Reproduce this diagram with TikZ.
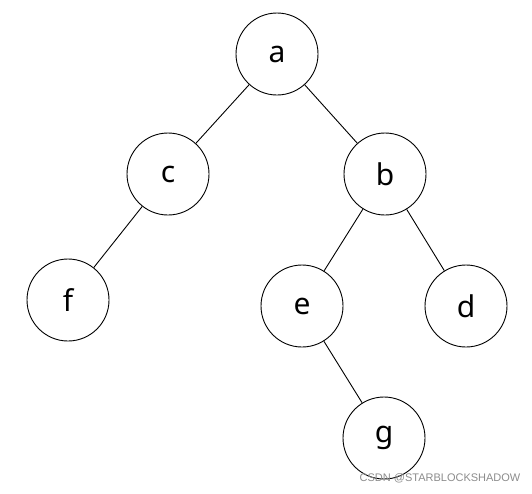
\documentclass[tikz,border=0pt]{standalone}
\usepackage{fontspec}
\setmainfont{Noto Sans}
\newfontfamily\wmfont{Liberation Sans}
\begin{document}
\begin{tikzpicture}[x=1pt,y=-1pt,
  vtx/.style={circle,draw=black,line width=0.9pt,minimum size=82pt,inner sep=0pt,font=\fontsize{30}{32}\selectfont},
  edge/.style={draw=black,line width=0.9pt}]
\useasboundingbox (0,0) rectangle (532,493);
\node[vtx] (a) at (277,54) {a};
\node[vtx] (c) at (168,174) {c};
\node[vtx] (b) at (385,174) {b};
\node[vtx] (f) at (68,300) {f};
\node[vtx] (e) at (302,306) {e};
\node[vtx] (d) at (466,306) {d};
\node[vtx] (g) at (384,438) {g};
\draw[edge] (a) -- (c);
\draw[edge] (a) -- (b);
\draw[edge] (c) -- (f);
\draw[edge] (b) -- (e);
\draw[edge] (b) -- (d);
\draw[edge] (e) -- (g);
\node[font=\wmfont\fontsize{11}{12}\selectfont,text=black!45] (wm) at (440,478) {CSDN @STARBLOCKSHADOW};
\end{tikzpicture}
\end{document}
